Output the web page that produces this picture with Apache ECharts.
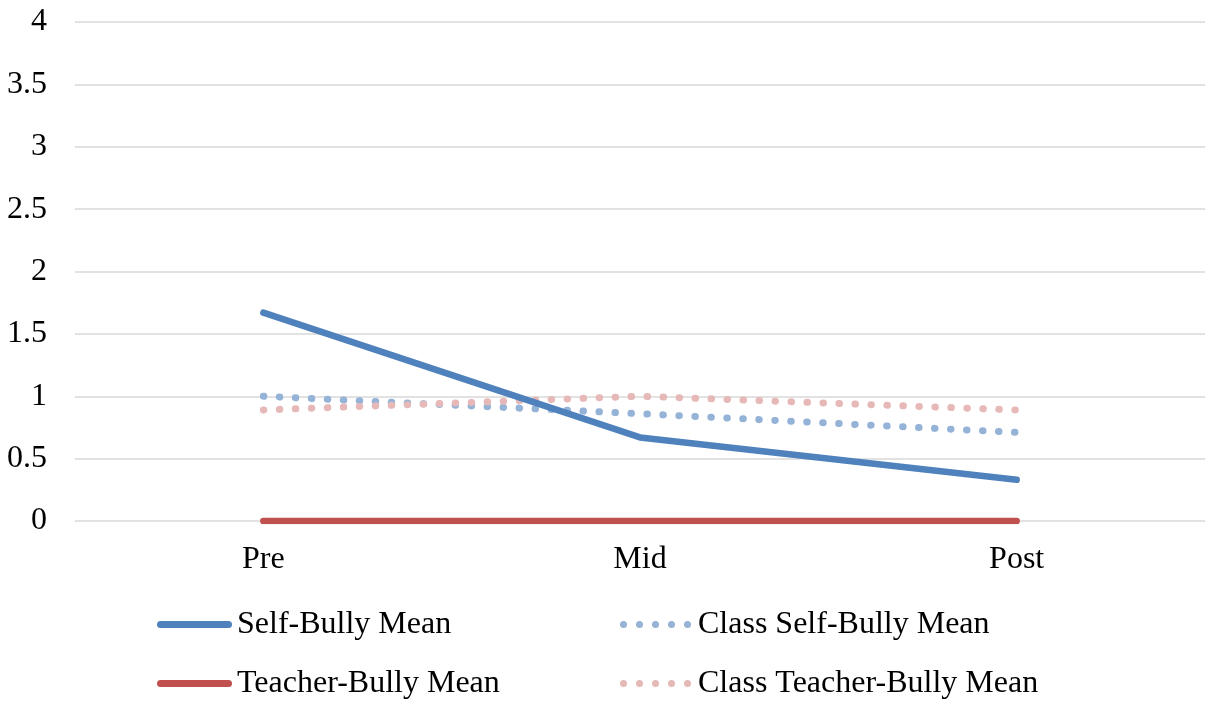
<!DOCTYPE html>
<html>
<head>
<meta charset="utf-8">
<script src="https://cdn.jsdelivr.net/npm/echarts@6/dist/echarts.min.js"></script>
<style>
  html, body { margin: 0; padding: 0; background: #fff; }
  #chart { width: 1207px; height: 703px; }
</style>
</head>
<body>
<div id="chart"></div>
<script>
// data
var categories = ['Pre', 'Mid', 'Post'];
var selfBully = [1.67, 0.67, 0.33];
var classSelfBully = [1.0, 0.86, 0.71];
var teacherBully = [0, 0, 0];
var classTeacherBully = [0.89, 1.0, 0.89];

var font = 'Liberation Serif';

// legend icons: a rounded bar for solid lines, five dots for dotted lines
var solidIcon = 'path://M3.5,0 L71.5,0 A3.5,3.5 0 0,1 71.5,7 L3.5,7 A3.5,3.5 0 0,1 3.5,0 Z';
var dotIcon = 'path://';
for (var i = 0; i < 5; i++) {
    var cx = 3.5 + i * 16;
    dotIcon += 'M' + (cx - 3.5) + ',3.5 A3.5,3.5 0 1,0 ' + (cx + 3.5) + ',3.5 A3.5,3.5 0 1,0 ' + (cx - 3.5) + ',3.5 Z ';
}

var myChart = echarts.init(document.getElementById('chart'));

var option = {
    animation: false,
    textStyle: { fontFamily: font },
    grid: { left: 75, right: 2, top: 22, bottom: 182 },
    legend: {
        orient: 'horizontal',
        left: 157, top: 600,
        width: 920,
        padding: 0,
        itemWidth: 75, itemHeight: 7, itemGap: 10,
        textStyle: { fontFamily: font, fontSize: 32, color: '#000', width: 373, lineHeight: 49 },
        data: [
            { name: 'Self-Bully Mean', icon: solidIcon },
            { name: 'Class Self-Bully Mean', icon: dotIcon },
            { name: 'Teacher-Bully Mean', icon: solidIcon },
            { name: 'Class Teacher-Bully Mean', icon: dotIcon }
        ]
    },
    xAxis: {
        type: 'category',
        data: categories,
        axisLine: { show: false },
        axisTick: { show: false },
        axisLabel: { fontFamily: font, fontSize: 32, color: '#000', margin: 23 }
    },
    yAxis: {
        type: 'value',
        min: 0, max: 4, interval: 0.5,
        axisLine: { show: false },
        axisTick: { show: false },
        axisLabel: { fontFamily: font, fontSize: 32, color: '#000', margin: 28 },
        splitLine: { lineStyle: { color: '#d9d9d9', width: 1.5 } }
    },
    series: [{
        name: 'Class Self-Bully Mean',
        type: 'line',
        data: classSelfBully,
        symbol: 'none',
        color: '#95B3D7',
        lineStyle: { width: 7, type: [0.5, 15.5], cap: 'round' }
    }, {
        name: 'Class Teacher-Bully Mean',
        type: 'line',
        data: classTeacherBully,
        symbol: 'none',
        color: '#E6B9B8',
        lineStyle: { width: 7, type: [0.5, 15.5], cap: 'round' }
    }, {
        name: 'Teacher-Bully Mean',
        type: 'line',
        data: teacherBully,
        symbol: 'none',
        color: '#C0504D',
        lineStyle: { width: 6.5, cap: 'round' }
    }, {
        name: 'Self-Bully Mean',
        type: 'line',
        data: selfBully,
        symbol: 'none',
        color: '#4F81BD',
        lineStyle: { width: 6.5, cap: 'round', join: 'round' }
    }]
};

myChart.setOption(option);
</script>
</body>
</html>
